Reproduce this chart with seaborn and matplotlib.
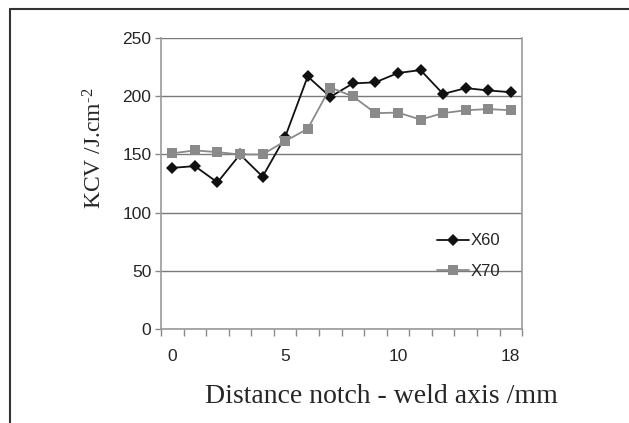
import pandas as pd
import matplotlib.pyplot as plt
import seaborn as sns
from matplotlib.lines import Line2D

# category positions along the notch axis (Excel-style category axis)
position = list(range(16))
tick_pos = [0, 5, 10, 15]
tick_labels = ['0', '5', '10', '18']

x60 = [138.5, 140, 126, 150, 131, 165, 217, 199.5, 211, 212, 220, 222.5, 202, 207, 205, 203.5]
x70 = [151, 153.5, 152, 150, 150, 161.5, 172, 207.5, 200, 185.5, 186, 180, 185.5, 188, 189, 188]

df = pd.DataFrame({'pos': position, 'X60': x60, 'X70': x70})
df_l = pd.melt(df, 'pos', var_name='steel', value_name='kcv')

sns.set_style('white')
plt.rcParams['mathtext.fontset'] = 'custom'
plt.rcParams['mathtext.rm'] = 'Liberation Serif'
plt.rcParams['mathtext.default'] = 'rm'

fig = plt.figure(figsize=(6.29, 4.23), dpi=100)
ax = fig.add_axes([0.256, 0.222, 0.574, 0.688])

ax.yaxis.grid(True, color='#7a7a7a', lw=1)
ax.set_axisbelow(True)

sns.lineplot(data=df_l, x='pos', y='kcv', hue='steel', style='steel',
             palette={'X60': '#111111', 'X70': '#8a8a8a'},
             markers={'X60': 'D', 'X70': 's'}, dashes=False,
             markersize=6.5, markeredgewidth=0, lw=1.3, ax=ax)
for ln in ax.lines:
    if ln.get_marker() == 'D':
        ln.set_markersize(6)

ax.set_xlim(-0.5, 15.5)
ax.set_ylim(0, 250)
ax.set_yticks([0, 50, 100, 150, 200, 250])
ax.set_xticks(tick_pos)
ax.set_xticklabels(tick_labels)
ax.set_xticks([p - 0.5 for p in position] + [15.5], minor=True)
ax.tick_params(axis='x', which='major', length=0, pad=14, labelsize=12.5)
ax.tick_params(axis='x', which='minor', length=5, width=1, color='#8a8a8a', direction='out', bottom=True)
ax.tick_params(axis='y', length=4, width=1, color='#8a8a8a', direction='out', left=True, labelsize=12.5, pad=3)
for lab in ax.get_xticklabels() + ax.get_yticklabels():
    lab.set_family('Liberation Sans')

for s in ['left', 'bottom', 'right']:
    ax.spines[s].set_visible(True)
    ax.spines[s].set_color('#9a9a9a')
    ax.spines[s].set_linewidth(1.2)
ax.spines['top'].set_visible(False)

ax.set_xlabel('Distance notch - weld axis /mm', family='Liberation Serif', fontsize=20)
ax.set_ylabel('KCV /J.cm$^{\\text{-}2}$', family='Liberation Serif', fontsize=17)
ax.xaxis.set_label_coords(0.61, -0.19)
ax.yaxis.set_label_coords(-0.15, 0.62)

handles, labels = ax.get_legend_handles_labels()
leg = ax.legend(handles, labels, loc='center left', bbox_to_anchor=(0.765, 0.25),
                frameon=False, borderpad=0, borderaxespad=0, handlelength=1.9,
                handletextpad=0.1, labelspacing=0.95,
                prop={'family': 'Liberation Sans', 'size': 12})

# page border (top and left only)
fig.add_artist(Line2D([0.016, 1.0], [0.979, 0.979], color='#333333', lw=1.5, transform=fig.transFigure))
fig.add_artist(Line2D([0.016, 0.016], [0.0, 0.979], color='#333333', lw=1.5, transform=fig.transFigure))

fig.savefig('out.png', dpi=100)
